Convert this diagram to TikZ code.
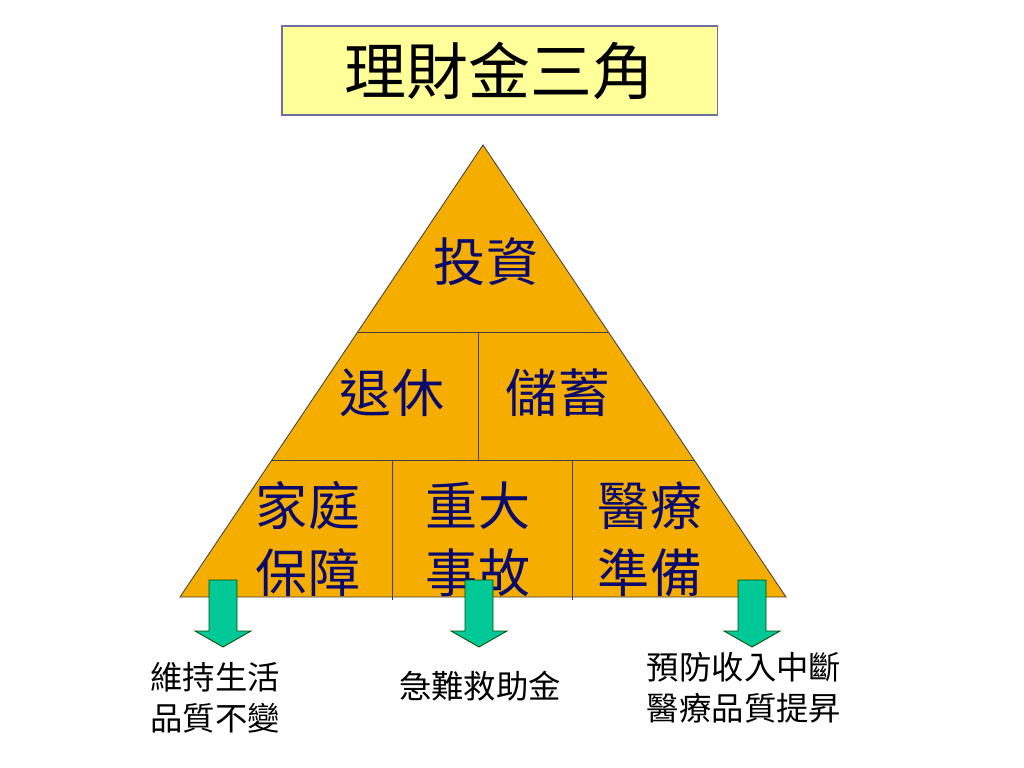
\documentclass[tikz,border=0pt]{standalone}
\usepackage{fontspec}
\newfontfamily\cjk{Noto Sans CJK TC}
\usepackage{xcolor}
\usepackage{tikz}
\usetikzlibrary{calc}

\definecolor{arancio}{RGB}{245,174,0}
\definecolor{giallino}{RGB}{255,255,153}
\definecolor{blunotte}{RGB}{10,10,110}
\definecolor{verdeacqua}{RGB}{0,200,150}
\definecolor{bordoblu}{RGB}{110,110,160}

\tikzset{
    titolo/.style={draw=bordoblu, fill=giallino, line width=0.8pt, inner sep=0pt,
        minimum width=10.875cm, minimum height=2.225cm,
        font=\cjk\fontsize{44}{52}\selectfont},
    bordo/.style={draw=black!75, line width=0.6pt},
    voce/.style={text=blunotte, align=center, inner sep=0pt,
        font=\cjk\fontsize{37}{47.7}\selectfont},
    freccia/.style={fill=verdeacqua, draw=black!70!green, line width=0.6pt},
    nota/.style={align=center, inner sep=0pt,
        font=\cjk\fontsize{23}{29}\selectfont}
}

\begin{document}
\begin{tikzpicture}[x=0.025cm, y=-0.025cm]
        \useasboundingbox (0,0) rectangle (1024,768);
        
        % Titolo
        \node[titolo] (titolo) at (499.5,70.5) {理財金三角};
        
        % Triangolo
        \coordinate (vertice) at (483,145);
        \coordinate (bsx) at (180,597);
        \coordinate (bdx) at (786,597);
        \draw[bordo, fill=arancio] (vertice) -- (bdx) -- (bsx) -- cycle;
        
        % Divisioni interne
        \draw[bordo] (357,332) -- (608,332);
        \draw[bordo] (272,460) -- (694,460);
        \draw[bordo] (478,332) -- (478,460);
        \foreach \x in {392,572} {
            \draw[bordo] (\x,460) -- (\x,600);
        }
        
        % Voci del triangolo
        \node[voce] (investimento) at (486,262) {投資};
        \node[voce] (pensione) at (392,393) {退休};
        \node[voce] (risparmio) at (558,393) {儲蓄};
        \node[voce] (famiglia) at (308,539) {家庭\\保障};
        \node[voce] (incidente) at (478,539) {重大\\事故};
        \node[voce] (sanita) at (650,539) {醫療\\準備};
        
        % Frecce verso il basso
        \foreach \n/\x in {1/223,2/479,3/752} {
            \coordinate (f\n) at (\x,580);
            \draw[freccia] (f\n) ++(-14,0) -- ++(28,0) -- ++(0,51) -- ++(14,0)
            -- ++(-28,16) -- ++(-28,-16) -- ++(14,0) -- cycle;
        }
        
        % Note sotto le frecce
        \node[nota] (n1) at (215,698) {維持生活\\品質不變};
        \node[nota] (n2) at (480,686) {急難救助金};
        \node[nota] (n3) at (744,688) {預防收入中斷\\醫療品質提昇};
        
    \end{tikzpicture}
\end{document}
